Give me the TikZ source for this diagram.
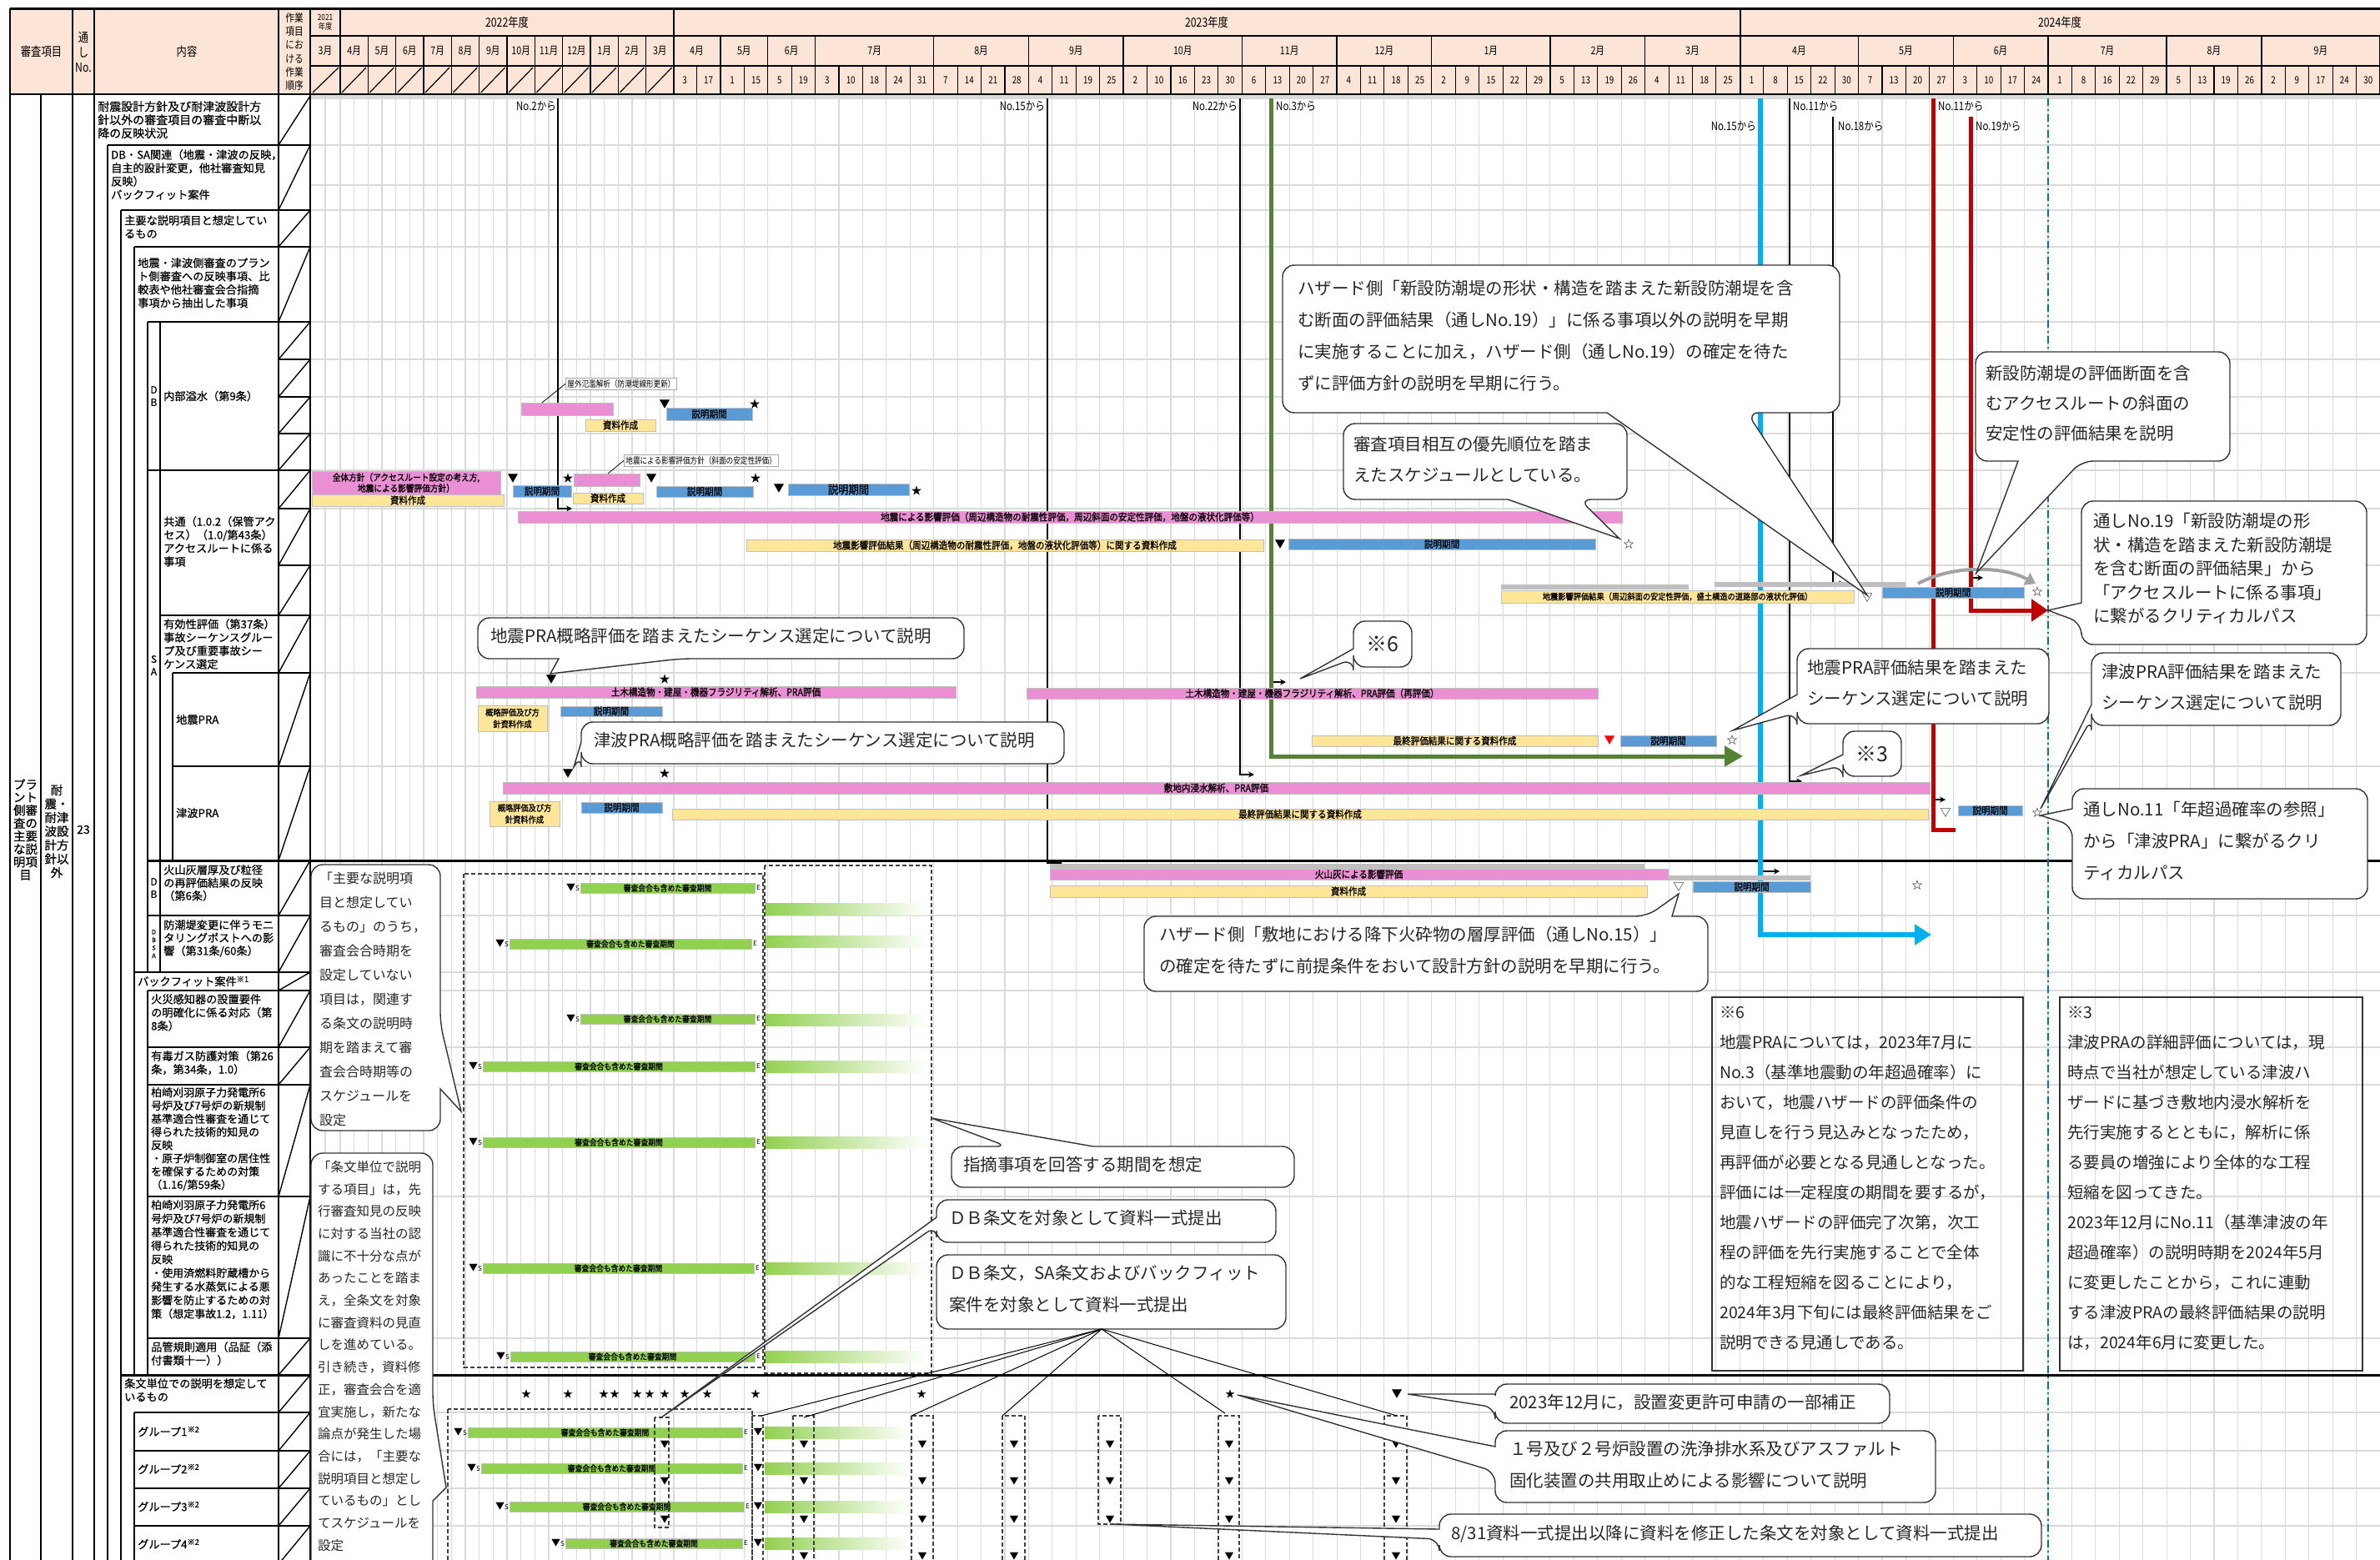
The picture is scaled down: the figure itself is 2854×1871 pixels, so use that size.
\documentclass[tikz,border=0pt]{standalone}
\usepackage{fontspec}
\usetikzlibrary{arrows.meta}
\setmainfont{Noto Sans CJK JP}
\newfontfamily\nar{Noto Sans CJK JP}[FakeStretch=0.82]
\newfontfamily\narb{Noto Sans CJK JP}[FakeStretch=0.88,FakeBold=1.2]
\newfontfamily\tbl{Noto Sans CJK JP}[FakeBold=0.6]
\definecolor{hdr}{HTML}{FCE4D6}
\definecolor{pk}{HTML}{EA8FD3}
\definecolor{yl}{HTML}{FFE699}
\definecolor{bl}{HTML}{5B9BD5}
\definecolor{gy}{HTML}{BFBFBF}
\definecolor{gn}{HTML}{92D050}
\definecolor{cy}{HTML}{00B0F0}
\definecolor{rd}{HTML}{C00000}
\definecolor{ol}{HTML}{548235}
\definecolor{gridc}{HTML}{DADADA}
\definecolor{dd}{HTML}{0070C0}
\newcommand{\BX}[7]{\node[#2,anchor=north west,minimum width={#5-#3},minimum height={#6-#4}] (#1) at (#3,#4) {#7};}
\newcommand{\CB}[8]{\draw[co] (#1,#2) -- (#3,#2) -- (#3,#4) -- (#6,#4) [sharp corners] -- (#7,#8) -- (#5,#4) [rounded corners=14pt] -- (#1,#4) -- cycle;}
\newcommand{\CL}[8]{\draw[co] (#3,#2) -- (#3,#4) -- (#1,#4) -- (#1,#6) [sharp corners] -- (#7,#8) -- (#1,#5) [rounded corners=14pt] -- (#1,#2) -- cycle;}
\newcommand{\CT}[8]{\draw[co] (#1,#4) -- (#1,#2) -- (#5,#2) [sharp corners] -- (#7,#8) -- (#6,#2) [rounded corners=14pt] -- (#3,#2) -- (#3,#4) -- cycle;}
\newcommand{\CR}[8]{\draw[co] (#1,#2) -- (#3,#2) -- (#3,#5) [sharp corners] -- (#7,#8) -- (#3,#6) [rounded corners=14pt] -- (#3,#4) -- (#1,#4) -- cycle;}
\newcommand{\GB}[6]{%
  \shade[left color=gn, right color=white] (917,{#5-7}) rectangle (#6,{#5+7});
  \node[grbar,anchor=west,minimum width={#3-#2},minimum height=12] (#1) at (#2,#4) {審査会合も含めた審査期間};
  \node[mk,anchor=east,font=\fontsize{11}{11}\selectfont] (#1s) at ({#2-1},#4) {▼\fontsize{8}{8}\selectfont S};
  \node[mk,anchor=west,font=\fontsize{8}{8}\selectfont] (#1e) at ({#3+2},#4) {E};}
\begin{document}
\begin{tikzpicture}[x=1pt,y=-1pt,
  gridl/.style={draw=gridc, line width=1.1pt},
  tl/.style={line width=1.6pt, black},
  hl/.style={line width=1.4pt, black},
  bar/.style={inner sep=0pt, outer sep=0pt, draw=black!25, line width=0.6pt, font=\narb\fontsize{12}{13}\selectfont, text=black, align=center},
  pbar/.style={bar, fill=pk}, ybar/.style={bar, fill=yl}, bbar/.style={bar, fill=bl},
  gbar/.style={bar, fill=gy, draw=none}, grbar/.style={bar, fill=gn, font=\narb\fontsize{10}{10}\selectfont},
  mk/.style={inner sep=0pt, font=\fontsize{13}{13}\selectfont},
  lab/.style={inner sep=0pt, font=\nar\fontsize{14}{14}\selectfont},
  lbx/.style={draw=black!35, line width=0.8pt, fill=white, inner sep=2pt, font=\nar\fontsize{10.5}{11}\selectfont},
  co/.style={draw=black!80, line width=1.4pt, fill=white, rounded corners=14pt},
  ct/.style={anchor=north west, align=left, inner sep=0pt, text=black!85, font=\fontsize{20.5}{38}\selectfont},
  tt/.style={anchor=north west, align=left, inner sep=0pt, font=\tbl\fontsize{13.2}{16}\selectfont},
  lt/.style={inner sep=0pt, align=center, font=\tbl\fontsize{12}{15}\selectfont},
  hd/.style={inner sep=0pt, align=center, font=\nar\fontsize{15}{18}\selectfont},
  hm/.style={inner sep=0pt, font=\nar\fontsize{13}{13}\selectfont},
  hdy/.style={inner sep=0pt, font=\nar\fontsize{12}{12}\selectfont},
  vl/.style={line width=1.6pt, -{Stealth[length=7pt,width=7pt]}},
  dsh/.style={draw=black!75, line width=1.2pt, dash pattern=on 5pt off 3pt},
  gmk/.style={inner sep=0pt, font=\fontsize{11}{11}\selectfont},
  note/.style={anchor=north west, align=left, inner sep=0pt, text=black!85, font=\fontsize{19.5}{36}\selectfont}]
\useasboundingbox (0,0) rectangle (2854,1871);
\fill[white] (0,0) rectangle (2854,1871);
% ---------------- header background
\fill[hdr] (12,10) rectangle (2854,113);
% ---------------- chart grid
\draw[gridl] (390,118) -- (390,1871);
\foreach \i in {0,...,24} \draw[gridl] ({408+16.6667*\i},118) -- ({408+16.6667*\i},1871);
\foreach \i in {1,...,71} \draw[gridl] ({807+28.43*\i},118) -- ({807+28.43*\i},1871);
\foreach \y in {174,222,252,296,386,431,476,520,564,610,678,738,807,919,1098,1166,1188,1256,1301,1435,1605,1694,1740,1785,1830}
  \draw[gridl] (372,\y) -- (2854,\y);
\fill[gridc] (372,113) rectangle (2854,119);
% ---------------- header lines
\draw[hl] (372,43) -- (2854,43);
\draw[hl] (372,79) -- (2854,79);
\foreach \x in {12,87,113,334,372,408,808,2087} \draw[hl] (\x,10) -- (\x,113);
\foreach \i in {1,...,11} \draw[hl] ({408+33.333*\i},43) -- ({408+33.333*\i},113);
\draw[line width=1.2pt] (375,111) -- (406,81);
\foreach \i in {0,...,11} \draw[line width=1.2pt] ({410+33.333*\i},111) -- ({439+33.333*\i},81);
\draw[line width=3pt] (12,10) -- (2854,10);
\draw[line width=2.5pt] (12,113) -- (2854,113);
\node[hd] (h1) at (49.5,62) {審査項目};
\node[hd] (h2) at (100,62) {通\\し\\No.};
\node[hd] (h3) at (224,62) {内容};
\node[hd, font=\nar\fontsize{13}{16.3}\selectfont] (h4) at (353,62) {作業\\項目\\にお\\ける\\作業\\順序};
\node[hd, font=\nar\fontsize{10}{11}\selectfont] (h5) at (390,27) {2021\\年度};
\node[hd] (h6) at (608,27) {2022年度};
\node[hd] (h7) at (1447,27) {2023年度};
\node[hd] (h8) at (2470,27) {2024年度};
\node[hm] (m0) at (390,61) {3月};
\foreach \m [count=\i from 0] in {4,5,6,7,8,9,10,11,12,1,2,3}
  \node[hm] (ma\i) at ({408+33.333*\i+16.667},61) {{\m}月};
\foreach \m/\s/\n [count=\k] in {4/0/2,5/2/2,6/4/2,7/6/5,8/11/4,9/15/4,10/19/5,11/24/4,12/28/4,1/32/5,2/37/4,3/41/4,4/45/5,5/50/4,6/54/4,7/58/5,8/63/4,9/67/5} {
  \node[hm] (mb\k) at ({807+28.43*(\s+\n/2)},61) {{\m}月};
  \draw[hl] ({807+28.43*(\s+\n)},43) -- ({807+28.43*(\s+\n)},113);}
\foreach \d [count=\i from 0] in {3,17,1,15,5,19,3,10,18,24,31,7,14,21,28,4,11,19,25,2,10,16,23,30,6,13,20,27,4,11,18,25,2,9,15,22,29,5,13,19,26,4,11,18,25,1,8,15,22,30,7,13,20,27,3,10,17,24,1,8,16,22,29,5,13,19,26,2,9,17,24,30} {
  \node[hdy] (d\i) at ({807+28.43*\i+14.2},96) {\d};
  \draw[line width=1.1pt] ({807+28.43*(\i+1)},79) -- ({807+28.43*(\i+1)},113);}
% ---------------- left table
\foreach \x in {12,87,113,334} \draw[tl] (\x,113) -- (\x,1871);
\draw[line width=2.2pt] (372,10) -- (372,1871);
\draw[tl] (49,113) -- (49,1871);
\draw[tl] (129,174) -- (129,1871);
\draw[tl] (145,252) -- (145,1871);
\draw[tl] (161,296) -- (161,1649); \draw[tl] (161,1694) -- (161,1871);
\draw[tl] (177,386) -- (177,1166); \draw[tl] (177,1188) -- (177,1649);
\draw[tl] (192,386) -- (192,1166);
\draw[tl] (207,807) -- (207,1032);
\draw[tl] (129,174) -- (372,174);
\draw[tl] (145,252) -- (372,252);
\draw[tl] (161,296) -- (372,296);
\draw[tl] (177,386) -- (372,386);
\foreach \y in {431,476,520,610,678} \draw[tl] (334,\y) -- (372,\y);
\draw[tl] (177,564) -- (372,564);
\draw[tl] (192,738) -- (372,738);
\draw[tl] (207,807) -- (372,807);
\draw[tl] (207,919) -- (372,919);
\foreach \y in {1098,1188,1256,1301,1435,1605} \draw[tl] (177,\y) -- (372,\y);
\draw[tl] (161,1166) -- (372,1166);
\foreach \y in {1694,1740,1785,1830} \draw[tl] (161,\y) -- (372,\y);
\draw[line width=3pt] (177,1032) -- (2854,1032);
\draw[line width=3pt] (145,1649) -- (2854,1649);
\foreach \a/\b in {115/174,174/252,252/296,296/386,386/431,431/476,476/520,520/564,564/610,610/678,678/738,738/807,807/919,919/1032,1032/1098,1098/1166,1166/1188,1188/1256,1256/1301,1301/1435,1435/1605,1605/1649,1649/1694,1694/1740,1740/1785,1785/1830,1830/1876}
  \draw[line width=1.4pt] (334,\b) -- (372,\a);
\node[tt, font=\tbl\fontsize{14}{16}\selectfont] (t1) at (117,121) {耐震設計方針及び耐津波設計方\\針以外の審査項目の審査中断以\\降の反映状況};
\node[tt] (t2) at (133,179) {DB・SA関連（地震・津波の反映，\\自主的設計変更，他社審査知見\\反映）\\バックフィット案件};
\node[tt] (t3) at (149,258) {主要な説明項目と想定してい\\るもの};
\node[tt] (t4) at (165,309) {地震・津波側審査のプラン\\ト側審査への反映事項、比\\較表や他社審査会合指摘\\事項から抽出した事項};
\node[tt, anchor=west] (t5) at (196,475) {内部溢水（第9条）};
\node[tt] (t6) at (196,619) {共通（1.0.2（保管アク\\セス）（1.0/第43条）\\アクセスルートに係る\\事項};
\node[tt] (t7) at (196,742) {有効性評価（第37条）\\事故シーケンスグルー\\プ及び重要事故シー\\ケンス選定};
\node[tt, anchor=west] (t8) at (211,863) {地震PRA};
\node[tt, anchor=west] (t9) at (211,975) {津波PRA};
\node[tt, font=\tbl\fontsize{13.2}{15.5}\selectfont] (t10) at (196,1037) {火山灰層厚及び粒径\\の再評価結果の反映\\（第6条）};
\node[tt, font=\tbl\fontsize{13.2}{15.5}\selectfont] (t11) at (196,1103) {防潮堤変更に伴うモニ\\タリングポストへの影\\響（第31条/60条）};
\node[tt, anchor=west] (t12) at (165,1177) {バックフィット案件\textsuperscript{※1}};
\node[tt] (t13) at (181,1192) {火災感知器の設置要件\\の明確化に係る対応（第\\8条）};
\node[tt] (t14) at (181,1260) {有毒ガス防護対策（第26\\条，第34条，1.0）};
\node[tt, font=\tbl\fontsize{13}{15.8}\selectfont] (t15) at (181,1304) {柏崎刈羽原子力発電所6\\号炉及び7号炉の新規制\\基準適合性審査を通じて\\得られた技術的知見の\\反映\\・原子炉制御室の居住性\\を確保するための対策\\（1.16/第59条）};
\node[tt, font=\tbl\fontsize{13}{16.3}\selectfont] (t16) at (181,1439) {柏崎刈羽原子力発電所6\\号炉及び7号炉の新規制\\基準適合性審査を通じて\\得られた技術的知見の\\反映\\・使用済燃料貯蔵槽から\\発生する水蒸気による悪\\影響を防止するための対\\策（想定事故1.2，1.11）};
\node[tt] (t17) at (181,1609) {品管規則適用（品証（添\\付書類十一））};
\node[tt] (t18) at (149,1653) {条文単位での説明を想定して\\いるもの};
\node[tt, anchor=west] (t19) at (165,1717) {グループ1\textsuperscript{※2}};
\node[tt, anchor=west] (t20) at (165,1762) {グループ2\textsuperscript{※2}};
\node[tt, anchor=west] (t21) at (165,1807) {グループ3\textsuperscript{※2}};
\node[tt, anchor=west] (t22) at (165,1852) {グループ4\textsuperscript{※2}};
\node[lt] (l1) at (184.5,475) {D\\B};
\node[lt] (l2) at (184.5,798) {S\\A};
\node[lt] (l3) at (184.5,1065) {D\\B};
\node[lt, font=\tbl\fontsize{7.5}{9.5}\selectfont] (l4) at (184.5,1132) {D\\B\\S\\A};
\node[lt, font=\tbl\fontsize{14.5}{15.5}\selectfont] (v1) at (30.5,995) {プラ\\ント\\側審\\査の\\主要\\な説\\明項\\目};
\node[lt, font=\tbl\fontsize{14.5}{16.5}\selectfont] (v2) at (68,997) {耐\\震・\\耐津\\波設\\計方\\針以\\外};
\node[lt, font=\tbl\fontsize{14}{14}\selectfont] (v3) at (100,995) {23};
% ---------------- vertical "No." lines
\draw[dd, line width=2pt, dash pattern=on 9pt off 4pt on 2pt off 4pt] (2456,118) -- (2456,1871);
\node[lab, anchor=east] (n2l) at (667,127) {No.2から};
\coordinate (n2a) at (669,118); \coordinate (n2b) at (686,610);
\draw[vl] (n2a) |- (n2b);
\node[lab, anchor=east] (n15l) at (1253,127) {No.15から};
\coordinate (n15a) at (1256,118); \coordinate (n15b) at (1274,1035);
\draw[vl] (n15a) |- (n15b);
\node[lab, anchor=east] (n22l) at (1484,127) {No.22から};
\coordinate (n22a) at (1487,118); \coordinate (n22b) at (1504,929);
\draw[vl] (n22a) |- (n22b);
\node[lab, anchor=west] (n3l) at (1530,127) {No.3から};
\coordinate (n3a) at (1524,118); \coordinate (n3b) at (2090,907); \coordinate (n3c) at (1542,818);
\draw[vl] (1524,818) -- (n3c);
\draw[ol, line width=5pt, -{Triangle[length=22pt,width=24pt]}] (n3a) |- (n3b);
\node[lab, anchor=east] (c15l) at (2106,151) {No.15から};
\coordinate (c15a) at (2111,118); \coordinate (c15b) at (2316,1121); \coordinate (c15c) at (2134,1045);
\draw[vl] (2111,1045) -- (c15c);
\draw[cy, line width=6pt, -{Triangle[length=20pt,width=24pt]}] (c15a) |- (c15b);
\node[lab, anchor=west] (n11l) at (2150,127) {No.11から};
\coordinate (n11a) at (2146,118); \coordinate (n11b) at (2161,937);
\draw[vl] (n11a) |- (n11b);
\node[lab, anchor=west] (n18l) at (2204,151) {No.18から};
\coordinate (n18a) at (2198,140); \coordinate (n18b) at (2212,700);
\draw[vl] (n18a) |- (n18b);
\node[lab, anchor=west] (r11l) at (2324,127) {No.11から};
\coordinate (r11a) at (2318,118); \coordinate (r11b) at (2345,995); \coordinate (r11c) at (2333,959);
\draw[vl] (2318,959) -- (r11c);
\draw[rd, line width=5pt] (r11a) |- (r11b);
\node[lab, anchor=west] (r19l) at (2369,151) {No.19から};
\coordinate (r19a) at (2363,140); \coordinate (r19b) at (2456,732); \coordinate (r19c) at (2378,693);
\draw[vl] (2363,693) -- (r19c);
\draw[rd, line width=5pt, -{Triangle[length=20pt,width=26pt]}] (r19a) |- (r19b);
% ---------------- 内部溢水
\node[lbx, anchor=north west] (lb1) at (678,453) {屋外氾濫解析（防潮堤線形更新）};
\BX{p1}{pbar}{625}{483}{735}{498}{}
\draw[line width=0.8pt] (650,483) -- (lb1.west);
\BX{y1}{ybar}{702}{503}{786}{517}{資料作成}
\node[mk] (k1) at (797,485) {▼};
\BX{b1}{bbar}{799}{489}{902}{504}{説明期間}
\node[mk] (s1) at (905,485) {★};
% ---------------- 共通
\node[lbx, anchor=north west] (lb2) at (748,545) {地震による影響評価方針（斜面の安定性評価）};
\BX{p2}{pbar,font=\narb\fontsize{11}{13}\selectfont}{374}{565}{600}{593}{全体方針（アクセスルート設定の考え方,\\地震による影響評価方針）}
\BX{y2}{ybar}{374}{593}{604}{607}{資料作成}
\node[mk] (k2) at (615,574) {▼};
\BX{b2}{bbar}{615}{582}{685}{596}{説明期間}
\node[mk] (s2) at (681,574) {★};
\BX{p3}{pbar}{688}{568}{767}{583}{}
\draw[line width=0.8pt] (729,568) -- (lb2.west);
\BX{y3}{ybar}{687}{591}{771}{604}{資料作成}
\node[mk] (k3) at (781,574) {▼};
\BX{b3}{bbar}{787}{583}{903}{596}{説明期間}
\node[mk] (s3) at (906,574) {★};
\node[mk] (k4) at (934,586) {▼};
\BX{b4}{bbar,font=\narb\fontsize{14}{14}\selectfont}{945}{580}{1090}{594}{説明期間}
\node[mk] (s4) at (1099,589) {★};
\BX{p4}{pbar}{621}{613}{1945}{627}{地震による影響評価（周辺構造物の耐震性評価，周辺斜面の安定性評価，地盤の液状化評価等）}
\BX{y4}{ybar}{895}{647}{1515}{661}{地震影響評価結果（周辺構造物の耐震性評価，地盤の液状化評価等）に関する資料作成}
\node[mk] (k5) at (1535,653) {▼};
\BX{b5}{bbar}{1545}{646}{1913}{659}{説明期間}
\node[mk] (s5) at (1953,653) {☆};
\BX{g1}{gbar}{1800}{701}{2025}{707}{}
\BX{g2}{gbar}{2056}{698}{2285}{704}{}
\BX{y5}{ybar,font=\narb\fontsize{10.5}{11}\selectfont}{1800}{708}{2223}{723}{地震影響評価結果（周辺斜面の安定性評価，盛土構造の道路部の液状化評価）}
\node[mk] (k6) at (2239,717) {▽};
\BX{b6}{bbar}{2257}{704}{2427}{717}{説明期間}
\node[mk] (s6) at (2443,710) {☆};
\draw[gy!85!black, line width=4pt, -{Triangle[length=12pt,width=16pt]}] (2300,700) .. controls (2340,678) and (2400,678) .. (2441,700);
% ---------------- 地震PRA
\node[mk] (k7) at (661,815) {▼};
\node[mk] (s7) at (797,815) {★};
\BX{p5}{pbar}{571}{823}{1146}{837}{土木構造物・建屋・機器フラジリティ解析、PRA評価}
\BX{y6}{ybar,font=\narb\fontsize{10.5}{14}\selectfont}{573}{846}{656}{877}{概略評価及び方\\針資料作成}
\BX{b7}{bbar}{672}{847}{794}{859}{説明期間}
\BX{p6}{pbar}{1231}{825}{1916}{838}{土木構造物・建屋・機器フラジリティ解析、PRA評価（再評価）}
\BX{y7}{ybar}{1573}{882}{1916}{895}{最終評価結果に関する資料作成}
\node[mk, text=red] (k8) at (1930,888) {▼};
\BX{b8}{bbar}{1943}{882}{2058}{895}{説明期間}
\node[mk] (s8) at (2077,888) {☆};
% ---------------- 津波PRA
\node[mk] (k9) at (681,928) {▼};
\node[mk] (s9) at (797,928) {★};
\BX{p7}{pbar}{603}{938}{2314}{952}{敷地内浸水解析、PRA評価}
\BX{y8}{ybar,font=\narb\fontsize{10.5}{14}\selectfont}{587}{961}{671}{991}{概略評価及び方\\針資料作成}
\BX{b9}{bbar}{697}{962}{794}{975}{説明期間}
\BX{y9}{ybar}{806}{970}{2312}{983}{最終評価結果に関する資料作成}
\node[mk] (k10) at (2333,975) {▽};
\BX{b10}{bbar}{2348}{966}{2425}{978}{説明期間}
\node[mk] (s10) at (2443,975) {☆};
% ---------------- 火山灰
\BX{g3}{gbar}{1259}{1036}{1972}{1042}{}
\BX{p8}{pbar}{1259}{1042}{2000}{1055}{火山灰による影響評価}
\BX{g4}{gbar}{2000}{1050}{2171}{1056}{}
\BX{y10}{ybar}{1259}{1062}{1975}{1076}{資料作成}
\node[mk] (k11) at (2013,1064) {▽};
\BX{b11}{bbar}{2030}{1057}{2171}{1070}{説明期間}
\node[mk] (s11) at (2299,1062) {☆};
% ---------------- green bars
\GB{q1}{696}{905}{1065}{1090}{1113}
\GB{q2}{611}{901}{1132}{1129}{1113}
\GB{q3}{696}{905}{1222}{1223}{1113}
\GB{q4}{579}{905}{1279}{1279}{1113}
\GB{q5}{579}{905}{1370}{1370}{1113}
\GB{q6}{579}{904}{1521}{1521}{1113}
\GB{q7}{612}{905}{1627}{1627}{1113}
\GB{q8}{561}{890}{1718}{1718}{1093}
\GB{q9}{577}{890}{1761}{1761}{1093}
\GB{q10}{611}{892}{1807}{1807}{1093}
\GB{q11}{678}{890}{1851}{1851}{1093}
\draw[dsh] (556,1048) rectangle (915,1640);
\draw[dsh] (917,1038) rectangle (1117,1647);
\draw[dsh] (537,1690) rectangle (902,1875);
\draw[dsh] (785,1700) rectangle (802,1832);
\draw[dsh] (1317,1698) rectangle (1344,1828);
\foreach \a/\b in {902/915,951/976,1093/1119,1202/1229,1461/1486,1660/1687} \draw[dsh] (\a,1698) rectangle (\b,1875);
\foreach \y [count=\j] in {1718,1761,1807,1851} \node[gmk] (ge\j) at (909,\y) {▼};
\foreach \y [count=\j] in {1733,1777,1823} {\node[gmk] (gx\j) at (797,\y) {▼}; \node[gmk] (gz\j) at (1331,\y) {▼};}
\foreach \x [count=\i] in {964,1106,1216,1474,1674}
  \foreach \y [count=\j] in {1733,1777,1823,1867} \node[gmk] (gv\i\j) at (\x,\y) {▼};
\foreach \x [count=\i] in {631,681,724,737,764,779,797,821,848,906,1105,1475}
  \node[mk,font=\fontsize{12}{12}\selectfont] (st\i) at (\x,1672) {★};
\node[mk] (kv) at (1675,1672) {▼};
% ---------------- callouts
\CB{1538}{318}{2206}{495}{1927}{2095}{2239}{714}
\node[ct] (c1) at (1556,336) {ハザード側「新設防潮堤の形状・構造を踏まえた新設防潮堤を含\\む断面の評価結果（通しNo.19）」に係る事項以外の説明を早期\\に実施することに加え，ハザード側（通しNo.19）の確定を待た\\ずに評価方針の説明を早期に行う。};
\CB{1611}{508}{1951}{599}{1808}{1894}{1942}{646}
\node[ct, font=\fontsize{20.5}{37}\selectfont] (c2) at (1623,523) {審査項目相互の優先順位を踏ま\\えたスケジュールとしている。};
\CB{2369}{422}{2674}{553}{2420}{2496}{2370}{687}
\node[ct, font=\fontsize{20.5}{36}\selectfont] (c3) at (2381,438) {新設防潮堤の評価断面を含\\むアクセスルートの斜面の\\安定性の評価結果を説明};
\CL{2496}{601}{2838}{773}{723}{747}{2456}{732}
\node[ct, font=\fontsize{20.5}{28.5}\selectfont] (c4) at (2510,615) {通しNo.19「新設防潮堤の形\\状・構造を踏まえた新設防潮堤\\を含む断面の評価結果」から\\「アクセスルートに係る事項」\\に繋がるクリティカルパス};
\CB{573}{741}{1156}{790}{670}{816}{660}{808}
\node[ct] (c5) at (588,753) {地震PRA概略評価を踏まえたシーケンス選定について説明};
\CL{1623}{745}{1693}{800}{778}{790}{1559}{814}
\node[inner sep=0pt, font=\fontsize{25}{25}\selectfont, text=black!85] (c6) at (1658,772) {※6};
\CL{2155}{778}{2457}{868}{833}{855}{2078}{876}
\node[ct, font=\fontsize{20.5}{37}\selectfont] (c7) at (2167,791) {地震PRA評価結果を踏まえた\\シーケンス選定について説明};
\CL{697}{866}{1276}{916}{890}{906}{688}{920}
\node[ct] (c8) at (712,878) {津波PRA概略評価を踏まえたシーケンス選定について説明};
\CL{2210}{877}{2280}{931}{905}{918}{2160}{930}
\node[inner sep=0pt, font=\fontsize{25}{25}\selectfont, text=black!85] (c9) at (2245,904) {※3};
\CL{2508}{783}{2807}{870}{845}{862}{2447}{970}
\node[ct, font=\fontsize{20.5}{37}\selectfont] (c10) at (2520,796) {津波PRA評価結果を踏まえた\\シーケンス選定について説明};
\CL{2485}{946}{2839}{1078}{970}{990}{2447}{978}
\node[ct, font=\fontsize{20.5}{38}\selectfont] (c11) at (2498,961) {通しNo.11「年超過確率の参照」\\から「津波PRA」に繋がるクリ\\ティカルパス};
\CT{1372}{1099}{2048}{1189}{1975}{2005}{2013}{1072}
\node[ct] (c12) at (1390,1111) {ハザード側「敷地における降下火砕物の層厚評価（通しNo.15）」\\の確定を待たずに前提条件をおいて設計方針の説明を早期に行う。};
\CR{373}{1037}{528}{1356}{1228}{1306}{553}{1333}
\node[ct, font=\fontsize{16}{29}\selectfont] (c13) at (383,1046) {「主要な説明項\\目と想定してい\\るもの」のうち，\\審査会合時期を\\設定していない\\項目は，関連す\\る条文の説明時\\期を踏まえて審\\査会合時期等の\\スケジュールを\\設定};
\CR{373}{1383}{519}{1895}{1684}{1800}{535}{1784}
\node[ct, font=\fontsize{15.5}{26.7}\selectfont] (c14) at (381,1392) {「条文単位で説明\\する項目」は，先\\行審査知見の反映\\に対する当社の認\\識に不十分な点が\\あったことを踏ま\\え，全条文を対象\\に審査資料の見直\\しを進めている。\\引き続き，資料修\\正，審査会合を適\\宜実施し，新たな\\論点が発生した場\\合には，「主要な\\説明項目と想定し\\ているもの」とし\\てスケジュールを\\設定};
\CT{1141}{1375}{1552}{1424}{1208}{1311}{1117}{1341}
\node[ct] (c15) at (1155,1387) {指摘事項を回答する期間を想定};
\CL{1123}{1439}{1530}{1490}{1460}{1470}{793}{1700}
\node[ct] (c16) at (1138,1451) {ＤＢ条文を対象として資料一式提出};
\CB{1123}{1505}{1542}{1594}{1312}{1330}{1321}{1594}
\node[ct] (c17) at (1138,1517) {ＤＢ条文，SA条文およびバックフィット\\案件を対象として資料一式提出};
\coordinate (fan) at (1321,1594);
\foreach \t in {(913,1698),(964,1700),(1093,1698),(1202,1698),(1469,1695),(1675,1698)} \draw[line width=1pt] (fan) -- \t;
\CL{1793}{1660}{2266}{1707}{1672}{1688}{1688}{1672}
\node[ct] (c18) at (1810,1672) {2023年12月に，設置変更許可申請の一部補正};
\CL{1793}{1716}{2321}{1802}{1735}{1765}{1484}{1673}
\node[ct] (c19) at (1810,1728) {１号及び２号炉設置の洗浄排水系及びアスファルト\\固化装置の共用取止めによる影響について説明};
\CL{1726}{1816}{2448}{1867}{1834}{1846}{1335}{1828}
\node[ct] (c20) at (1740,1829) {8/31資料一式提出以降に資料を修正した条文を対象として資料一式提出};
% ---------------- notes
\draw[line width=1.3pt, draw=black!80] (2053,1196) rectangle (2426,1644);
\node[note] (nt6) at (2062,1207) {※6\\地震PRAについては，2023年7月に\\No.3（基準地震動の年超過確率）に\\おいて，地震ハザードの評価条件の\\見直しを行う見込みとなったため，\\再評価が必要となる見通しとなった。\\評価には一定程度の期間を要するが，\\地震ハザードの評価完了次第，次工\\程の評価を先行実施することで全体\\的な工程短縮を図ることにより，\\2024年3月下旬には最終評価結果をご\\説明できる見通しである。};
\draw[line width=1.3pt, draw=black!80] (2470,1196) rectangle (2833,1644);
\node[note] (nt3) at (2479,1207) {※3\\津波PRAの詳細評価については，現\\時点で当社が想定している津波ハ\\ザードに基づき敷地内浸水解析を\\先行実施するとともに，解析に係\\る要員の増強により全体的な工程\\短縮を図ってきた。\\2023年12月にNo.11（基準津波の年\\超過確率）の説明時期を2024年5月\\に変更したことから，これに連動\\する津波PRAの最終評価結果の説明\\は，2024年6月に変更した。};
\end{tikzpicture}
\end{document}
